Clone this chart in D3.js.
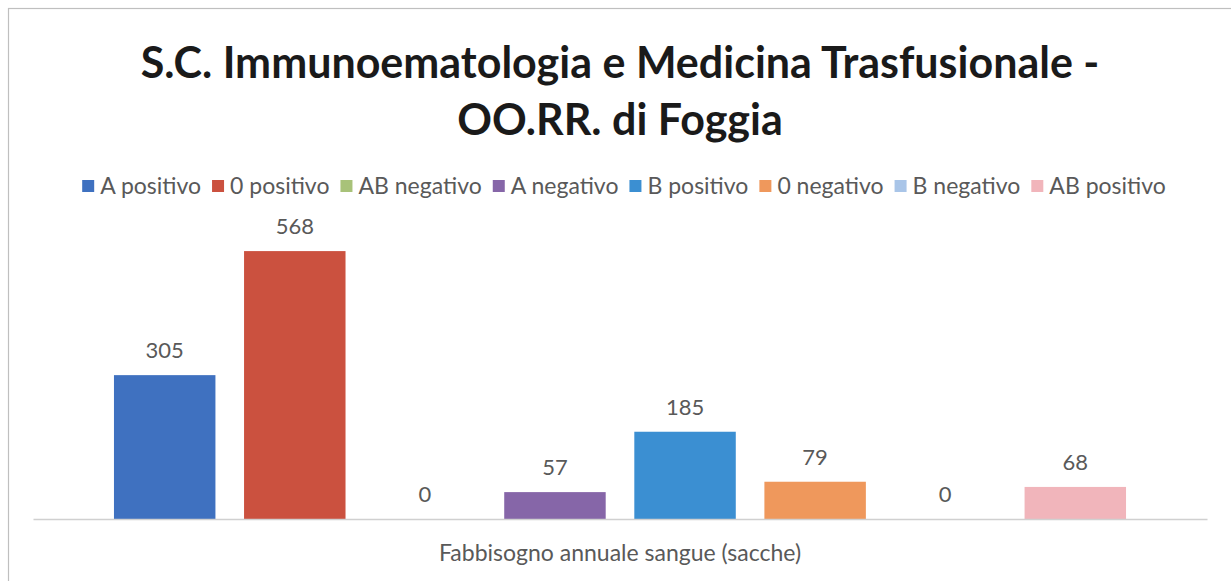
<!DOCTYPE html>
<html>
<head>
<meta charset="utf-8">
<script src="https://cdn.jsdelivr.net/npm/d3@7"></script>
<style>
    body { margin: 0; background: #fff; }
    text { font-family: Lato, 'Open Sans', sans-serif; }
</style>
</head>
<body>
<div class="canvas"></div>
<script>
const categories = [ 'Fabbisogno annuale sangue (sacche)' ];
const seriesNames = [ 'A positivo', '0 positivo', 'AB negativo', 'A negativo', 'B positivo', '0 negativo', 'B negativo', 'AB positivo' ];
const seriesValues = [ 305, 568, 0, 57, 185, 79, 0, 68 ];
const seriesColors = [ '#3f71c0', '#cb513f', '#a8c279', '#8666a8', '#3b8fd2', '#ef985c', '#a9c5e8', '#f1b5bb' ];
const titleLines = [ 'S.C. Immunoematologia e Medicina Trasfusionale -', 'OO.RR. di Foggia' ];

const width = 1231;
const height = 581;
const margin = { top: 236, right: 24, bottom: 62, left: 33 };
const graphWidth = width - margin.left - margin.right;
const graphHeight = height - margin.top - margin.bottom;

const svg = d3.select('.canvas')
    .append('svg')
    .attr('width', width)
    .attr('height', height)
;

// chart frame
svg.append('rect')
    .attr('x', 8.5)
    .attr('y', 8.5)
    .attr('width', width + 20)
    .attr('height', height + 20)
    .attr('fill', '#fff')
    .attr('stroke', '#bfbfbf')
    .attr('stroke-width', 1.2)
;

// title
svg.selectAll('.title')
    .data(titleLines)
    .enter()
    .append('text')
        .attr('class', 'title')
        .attr('x', 620)
        .attr('y', (d, i) => 78 + i * 57)
        .attr('text-anchor', 'middle')
        .attr('font-size', 43)
        .attr('font-weight', 'bold')
        .attr('fill', '#1a1a1a')
        .text(d => d)
;

const graph = svg.append('g')
    .attr('transform', `translate(${margin.left}, ${margin.top})`)
;

// scales
const x0 = d3.scaleBand()
    .domain(categories)
    .range([ 0, graphWidth ])
    .paddingOuter(0.08)
;
const x1 = d3.scaleBand()
    .domain(seriesNames)
    .range([ 0, x0.bandwidth() ])
    .paddingInner(0.22)
;
const y = d3.scaleLinear().domain([ 0, 600 ]).range([ graphHeight, 0 ]);
const color = d3.scaleOrdinal().domain(seriesNames).range(seriesColors);

const data = seriesNames.map((name, i) => ({ name, value: seriesValues[i] }));

// bars
const group = graph.append('g')
    .attr('transform', `translate(${x0(categories[0])}, 0)`)
;
group.selectAll('rect')
    .data(data)
    .enter()
    .append('rect')
        .attr('x', d => x1(d.name))
        .attr('y', d => y(d.value))
        .attr('width', x1.bandwidth())
        .attr('height', d => graphHeight - y(d.value))
        .attr('fill', d => color(d.name))
;

// data labels
group.selectAll('.label')
    .data(data)
    .enter()
    .append('text')
        .attr('class', 'label')
        .attr('x', d => x1(d.name) + x1.bandwidth() / 2)
        .attr('y', d => y(d.value) - 17)
        .attr('text-anchor', 'middle')
        .attr('font-size', 22)
        .attr('fill', '#595959')
        .text(d => d.value)
;

// x axis
const xAxis = d3.axisBottom(x0).tickSize(0).tickPadding(26);
const xAxisGroup = graph.append('g')
    .attr('transform', `translate(0, ${graphHeight})`)
    .call(xAxis)
;
xAxisGroup.select('.domain').attr('stroke', '#d0d0d0').attr('stroke-width', 1.5);
xAxisGroup.selectAll('text')
    .attr('font-size', 23)
    .attr('fill', '#595959')
    .style('font-family', 'Lato, sans-serif')
;

// legend
const legend = svg.append('g').attr('class', 'legend');
const items = legend.selectAll('g')
    .data(seriesNames)
    .enter()
    .append('g')
;
items.append('rect')
    .attr('width', 12)
    .attr('height', 12)
    .attr('y', -6)
    .attr('fill', d => color(d))
;
items.append('text')
    .attr('x', 18)
    .attr('y', 0)
    .attr('dy', '0.35em')
    .attr('font-size', 23)
    .attr('fill', '#595959')
    .text(d => d)
;
let offset = 0;
items.each(function () {
    const w = d3.select(this).select('text').node().getComputedTextLength();
    d3.select(this).attr('transform', `translate(${offset}, 0)`);
    offset += 18 + w + 11;
});
offset -= 11;
legend.attr('transform', `translate(${624 - offset / 2}, 186)`);
</script>
</body>
</html>
